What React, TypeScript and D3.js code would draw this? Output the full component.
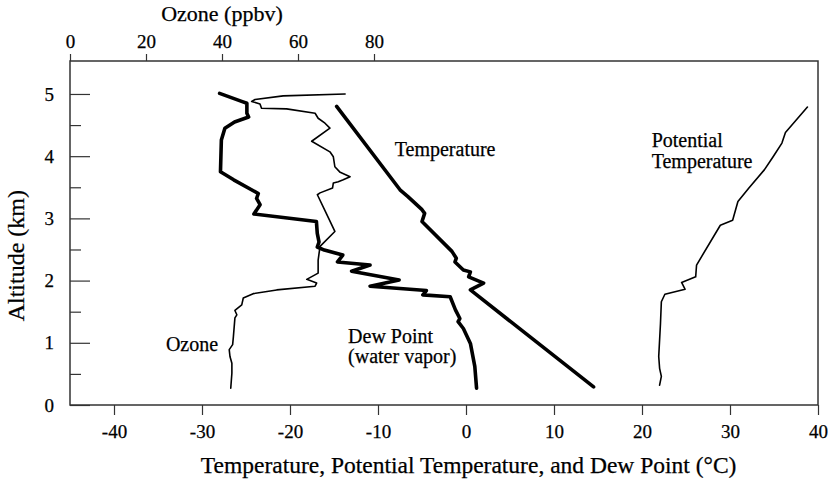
import React, { useRef, useEffect } from 'react';
import * as d3 from 'd3';

const width = 833;
const height = 482;
const margin = { top: 61, right: 15, bottom: 77, left: 70 };

// axis ticks
const altitudeTicks = [0, 1, 2, 3, 4, 5];
const altitudeMinorTicks = [0.5, 1.5, 2.5, 3.5, 4.5];
const tempTicks = [-40, -30, -20, -10, 0, 10, 20, 30, 40];
const ozoneTicks = [0, 20, 40, 60, 80];

// ozone (ppbv) vs altitude (km)
const ozonePpbv = [
  72.4, 56.1, 48.7, 47.8, 50.0, 50.4, 57.0, 64.5, 65.3, 67.1, 68.4, 63.6, 68.4, 69.3, 69.7,
  71.1, 73.7, 71.9, 70.6, 69.3, 69.1, 65.8, 65.1, 67.6, 69.7, 65.8, 65.3, 65.3, 62.3, 64.9,
  64.5, 54.4, 48.2, 45.6, 45.2, 43.4, 43.9, 43.4, 43.0, 42.8, 41.9, 42.1, 42.6, 42.6, 42.3,
];
const ozoneAlt = [
  5.0, 4.97, 4.91, 4.88, 4.84, 4.77, 4.76, 4.69, 4.61, 4.53, 4.45, 4.24, 4.07, 3.99, 3.83,
  3.74, 3.67, 3.62, 3.59, 3.57, 3.49, 3.41, 3.38, 3.06, 2.79, 2.55, 2.33, 2.12, 2.02, 1.96,
  1.91, 1.85, 1.79, 1.72, 1.61, 1.52, 1.45, 1.4, 1.1, 0.97, 0.89, 0.78, 0.67, 0.51, 0.27,
];

// dew point (°C) vs altitude (km)
const dewPointC = [
  -28.0, -25.5, -24.9, -24.9, -24.7, -26.3, -27.4, -27.8, -27.9, -26.4, -23.6, -23.8, -23.4,
  -24.1, -17.0, -16.9, -16.7, -16.9, -16.1, -14.0, -14.6, -10.9, -13.0, -7.6, -10.9, -4.5,
  -4.9, -1.8, -1.2, -0.7, -0.9, -0.3, 0.5, 1.0, 1.2,
];
const dewPointAlt = [
  5.01, 4.88, 4.85, 4.69, 4.63, 4.55, 4.45, 4.26, 3.75, 3.62, 3.4, 3.32, 3.22, 3.07, 2.95,
  2.76, 2.62, 2.54, 2.49, 2.41, 2.3, 2.25, 2.15, 2.01, 1.91, 1.84, 1.77, 1.74, 1.53, 1.39,
  1.34, 1.23, 0.99, 0.62, 0.27,
];

// temperature (°C) vs altitude (km)
const temperatureC = [-14.7, -7.5, -6.6, -5.0, -4.7, -5.0, -1.6, -1.1, -1.25, -0.3, 0.5, 0.3, 2.0, 0.5, 14.5];
const temperatureAlt = [4.8, 3.46, 3.35, 3.14, 3.08, 2.95, 2.47, 2.36, 2.3, 2.17, 2.14, 2.06, 1.96, 1.85, 0.29];

// potential temperature (°C) vs altitude (km)
const potentialTempC = [
  38.8, 36.3, 35.9, 34.9, 33.9, 32.1, 30.9, 30.3, 28.9, 26.2, 26.1, 24.5, 24.9, 22.6, 22.2,
  22.1, 21.9, 22.0, 22.2, 22.0,
];
const potentialTempAlt = [
  4.79, 4.38, 4.21, 3.99, 3.78, 3.48, 3.27, 2.97, 2.89, 2.25, 2.06, 1.97, 1.86, 1.78, 1.66,
  1.31, 0.78, 0.59, 0.46, 0.32,
];

const serif = 'Liberation Serif, DejaVu Serif, serif';

const App: React.FC = () => {
  const chartRef = useRef<SVGSVGElement>(null);

  useEffect(() => {
    const svg = d3.select(chartRef.current);
    svg.selectAll('*').remove();

    const x = d3.scaleLinear().domain([-45, 40]).range([margin.left, width - margin.right]);
    const xOz = d3.scaleLinear().domain([0, 100]).range([margin.left, margin.left + 380]);
    const y = d3.scaleLinear().domain([0, 5.53]).range([height - margin.bottom, margin.top]);

    const styleAxis = (g: any) => {
      g.select('.domain').remove();
      g.selectAll('.tick line').attr('stroke', '#333').attr('stroke-width', 1.2);
      g.selectAll('.tick text')
        .attr('fill', '#000')
        .attr('stroke', '#000')
        .attr('stroke-width', 0.25)
        .style('font-family', serif);
      g.attr('font-family', null).attr('font-size', 19);
    };

    // left axis, ticks pointing inward
    svg
      .append('g')
      .attr('transform', `translate(${margin.left},0)`)
      .call(d3.axisLeft(y).tickValues(altitudeTicks).tickSize(-20).tickPadding(16).tickFormat(d3.format('d')))
      .call(styleAxis);
    svg
      .append('g')
      .attr('transform', `translate(${margin.left},0)`)
      .call(d3.axisLeft(y).tickValues(altitudeMinorTicks).tickSize(-11).tickFormat(() => ''))
      .call(styleAxis);

    // bottom axis
    svg
      .append('g')
      .attr('transform', `translate(0,${height - margin.bottom})`)
      .call(d3.axisBottom(x).tickValues(tempTicks).tickSize(10).tickPadding(9.5).tickFormat(d3.format('d')))
      .call(styleAxis)
      .call((g: any) => g.selectAll('.tick text').text((d: number) => (d < 0 ? '-' + Math.abs(d) : String(d))));

    // top ozone axis
    svg
      .append('g')
      .attr('transform', `translate(0,${margin.top})`)
      .call(d3.axisTop(xOz).tickValues(ozoneTicks).tickSize(7).tickPadding(6))
      .call(styleAxis);

    // frame
    svg
      .append('rect')
      .attr('x', margin.left)
      .attr('y', margin.top)
      .attr('width', width - margin.right - margin.left)
      .attr('height', height - margin.bottom - margin.top)
      .attr('fill', 'none')
      .attr('stroke', '#333')
      .attr('stroke-width', 1.5);

    const drawLine = (xs: number[], ys: number[], sx: any, w: number) => {
      const pts: [number, number][] = xs.map((v, i) => [v, ys[i]]);
      const line = d3
        .line<[number, number]>()
        .x((d) => sx(d[0]))
        .y((d) => y(d[1]));
      svg
        .append('path')
        .datum(pts)
        .attr('d', line)
        .attr('fill', 'none')
        .attr('stroke', '#000')
        .attr('stroke-width', w)
        .attr('stroke-linejoin', 'round')
        .attr('stroke-linecap', 'round');
    };

    drawLine(ozonePpbv, ozoneAlt, xOz, 1.6);
    drawLine(potentialTempC, potentialTempAlt, x, 1.6);
    drawLine(dewPointC, dewPointAlt, x, 3.6);
    drawLine(temperatureC, temperatureAlt, x, 3.6);

    const text = (t: string, px: number, py: number, size: number, anchor = 'start') =>
      svg
        .append('text')
        .attr('x', px)
        .attr('y', py)
        .attr('text-anchor', anchor)
        .style('font-family', serif)
        .attr('font-size', size)
        .attr('fill', '#000')
        .attr('stroke', '#000')
        .attr('stroke-width', 0.25)
        .text(t);

    // in-plot labels
    text('Temperature', x(-8.1), y(4.0), 20);
    text('Potential', x(21.1), y(4.15), 20);
    text('Temperature', x(21.1), y(3.81), 20);
    text('Ozone', x(-34.1), y(0.87), 20);
    text('Dew Point', x(-13.4), y(1.0), 20);
    text('(water vapor)', x(-13.4), y(0.68), 20);

    // axis titles
    text('Ozone (ppbv)', xOz(40), 21, 22, 'middle');
    text('Temperature, Potential Temperature, and Dew Point (°C)', x(0.3), 473, 23.5, 'middle');
    text('Altitude (km)', 0, 0, 24, 'middle').attr('transform', `translate(24,${y(2.4)}) rotate(-90)`);
  }, []);

  return (
    <svg
      ref={chartRef}
      width={width}
      height={height}
      style={{ position: 'absolute', left: 0, top: 0, background: '#fff' }}
    />
  );
};

export default App;
